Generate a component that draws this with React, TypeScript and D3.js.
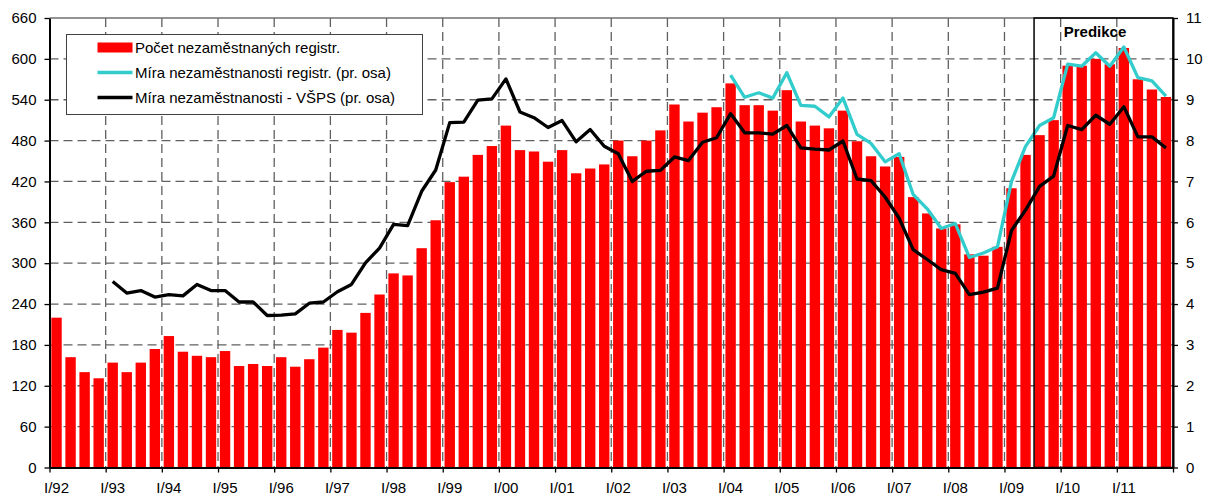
import React, { useEffect, useRef } from 'react';
import * as d3 from 'd3';

const years = ['92', '93', '94', '95', '96', '97', '98', '99', '00', '01', '02', '03', '04', '05', '06', '07', '08', '09', '10', '11'];
const quarterNames = ['I', 'II', 'III', 'IV'];
const categories = years.flatMap((y) => quarterNames.map((q) => `${q}/${y}`));

// počet registrovaných nezaměstnaných (tis.), levá osa
const registeredCount = [
  220, 162, 140, 131, 154, 140, 154, 174, 193, 170, 164, 162, 171, 149, 152, 149,
  162, 148, 159, 176, 202, 198, 227, 254, 285, 282, 322, 363, 419, 427, 459, 472,
  502, 466, 464, 449, 466, 432, 439, 445, 480, 457, 480, 495, 533, 508, 521, 529,
  564, 532, 532, 524, 554, 508, 502, 498, 524, 479, 457, 442, 456, 397, 373, 351,
  357, 313, 311, 324, 410, 459, 488, 510, 590, 590, 600, 592, 616, 570, 555, 544,
];

// míra registrované nezaměstnanosti (%), pravá osa – od I/04
const rateRegistered = [
  ...Array(48).fill(null),
  9.6, 9.06, 9.17, 9.04, 9.66, 8.86, 8.84, 8.58, 9.04, 8.15, 7.93, 7.48, 7.68, 6.68, 6.33, 5.85,
  5.97, 5.14, 5.25, 5.4, 7.0, 7.86, 8.37, 8.56, 9.87, 9.82, 10.15, 9.82, 10.29, 9.54, 9.46, 9.09,
];

// míra nezaměstnanosti VŠPS (%), pravá osa – od I/93
const rateVSPS = [
  null, null, null, null,
  4.55, 4.27, 4.33, 4.17, 4.23, 4.2, 4.48, 4.33, 4.33, 4.05, 4.05, 3.72,
  3.73, 3.76, 4.02, 4.05, 4.3, 4.48, 5.01, 5.37, 5.95, 5.92, 6.76, 7.28,
  8.44, 8.45, 8.99, 9.02, 9.51, 8.7, 8.56, 8.32, 8.49, 7.97, 8.27, 7.86,
  7.68, 7.0, 7.25, 7.27, 7.6, 7.51, 7.96, 8.07, 8.66, 8.19, 8.19, 8.16,
  8.37, 7.82, 7.79, 7.77, 7.99, 7.06, 7.02, 6.62, 6.1, 5.33, 5.09, 4.84,
  4.75, 4.23, 4.29, 4.39, 5.8, 6.3, 6.88, 7.13, 8.37, 8.27, 8.62, 8.4,
  8.83, 8.09, 8.09, 7.82,
];

const leftTicks = d3.range(0, 661, 60);
const rightTicks = d3.range(0, 12, 1);
const predictionStart = 'III/09';

const legendItems = [
  { label: 'Počet nezaměstnaných registr.', type: 'bar', color: '#ff0000' },
  { label: 'Míra nezaměstnanosti registr. (pr. osa)', type: 'line', color: '#33cccc' },
  { label: 'Míra nezaměstnanosti - VŠPS (pr. osa)', type: 'line', color: '#000000' },
];

const font = '"Liberation Sans", Arial, sans-serif';

function App() {
  const svgRef = useRef<SVGSVGElement>(null);

  useEffect(() => {
    const width = 1207;
    const height = 499;
    const margin = { top: 18, right: 34, bottom: 31.5, left: 49.5 };
    const x0 = margin.left;
    const x1 = width - margin.right;
    const y0 = height - margin.bottom;
    const y1 = margin.top;

    const svg = d3.select(svgRef.current).attr('width', width).attr('height', height);
    svg.selectAll('*').remove();

    const x = d3.scaleBand().domain(categories).range([x0, x1]).paddingInner(0.26).paddingOuter(0.13);
    const step = x.step();
    const yearScale = d3.scaleLinear().domain([0, years.length]).range([x0, x1]);
    const yL = d3.scaleLinear().domain([0, 660]).range([y0, y1]);
    const yR = d3.scaleLinear().domain([0, 11]).range([y0, y1]);

    // mřížka
    const grid = svg.append('g');
    grid
      .selectAll('.hgrid')
      .data(leftTicks.filter((t) => t > 0 && t < 660))
      .enter()
      .append('line')
      .attr('x1', x0)
      .attr('x2', x1)
      .attr('y1', (d) => yL(d))
      .attr('y2', (d) => yL(d))
      .attr('stroke', '#606060')
      .attr('stroke-width', 1.3)
      .attr('stroke-dasharray', '9,5');
    grid
      .selectAll('.vgrid')
      .data(d3.range(1, years.length))
      .enter()
      .append('line')
      .attr('x1', (d) => yearScale(d))
      .attr('x2', (d) => yearScale(d))
      .attr('y1', y1)
      .attr('y2', y0)
      .attr('stroke', '#606060')
      .attr('stroke-width', 1.3)
      .attr('stroke-dasharray', '9,5');
    grid
      .append('line')
      .attr('x1', x0)
      .attr('x2', x1)
      .attr('y1', y1)
      .attr('y2', y1)
      .attr('stroke', '#707070')
      .attr('stroke-width', 1.5);

    // sloupce
    svg
      .append('g')
      .selectAll('rect')
      .data(registeredCount)
      .enter()
      .append('rect')
      .attr('x', (_, i) => x(categories[i]) as number)
      .attr('y', (d) => yL(d))
      .attr('width', x.bandwidth())
      .attr('height', (d) => y0 - yL(d))
      .attr('fill', '#ff0000');

    // linie
    const line = d3
      .line<number | null>()
      .defined((d) => d !== null)
      .x((_, i) => (x(categories[i]) as number) + x.bandwidth() / 2)
      .y((d) => yR(d as number));

    svg
      .append('path')
      .datum(rateRegistered)
      .attr('d', line)
      .attr('fill', 'none')
      .attr('stroke', '#33cccc')
      .attr('stroke-width', 3.3)
      .attr('stroke-linejoin', 'round');
    svg
      .append('path')
      .datum(rateVSPS)
      .attr('d', line)
      .attr('fill', 'none')
      .attr('stroke', '#000')
      .attr('stroke-width', 3.3)
      .attr('stroke-linejoin', 'round');

    // predikce
    const px = (x(predictionStart) as number) - (step - x.bandwidth()) / 2 + 1.5;
    svg
      .append('rect')
      .attr('x', px)
      .attr('y', y1)
      .attr('width', x1 - px)
      .attr('height', y0 - y1)
      .attr('fill', 'none')
      .attr('stroke', '#000')
      .attr('stroke-width', 1.5);
    svg
      .append('text')
      .attr('x', 1095)
      .attr('y', 37)
      .attr('text-anchor', 'middle')
      .attr('font-family', font)
      .attr('font-size', 15)
      .attr('font-weight', 'bold')
      .text('Predikce');

    // osy
    const styleAxis = (g) => {
      g.selectAll('.domain').attr('stroke', '#000').attr('stroke-width', 2);
      g.selectAll('.tick line').attr('stroke', '#000').attr('stroke-width', 1.3);
      g.selectAll('text').attr('font-family', font).attr('font-size', 15).attr('fill', '#000');
    };

    svg
      .append('g')
      .attr('transform', `translate(${x0},0)`)
      .call(d3.axisLeft(yL).tickValues(leftTicks).tickSize(5).tickSizeOuter(0).tickPadding(8))
      .call(styleAxis);

    svg
      .append('g')
      .attr('transform', `translate(${x1},0)`)
      .call(d3.axisRight(yR).tickValues(rightTicks).tickSize(5).tickSizeOuter(0).tickPadding(8))
      .call(styleAxis);

    svg
      .append('g')
      .attr('transform', `translate(0,${y0})`)
      .call(d3.axisBottom(yearScale).tickValues(d3.range(0, years.length + 1)).tickFormat(() => '').tickSize(5).tickSizeOuter(0))
      .call(styleAxis);

    svg
      .append('g')
      .attr('transform', `translate(0,${y0})`)
      .call(d3.axisBottom(x).tickValues(categories.filter((c) => c.startsWith('I/'))).tickSize(0).tickPadding(15))
      .call((g) => g.select('.domain').remove())
      .call(styleAxis);

    // legenda
    const legend = svg.append('g').attr('transform', 'translate(66.5,34.5)');
    legend
      .append('rect')
      .attr('width', 356)
      .attr('height', 80)
      .attr('fill', '#fff')
      .attr('stroke', '#404040')
      .attr('stroke-width', 1);
    legendItems.forEach((item, i) => {
      const cy = 13 + i * 25;
      if (item.type === 'bar') {
        legend.append('rect').attr('x', 31).attr('y', cy - 5).attr('width', 35).attr('height', 10).attr('fill', item.color);
      } else {
        legend
          .append('line')
          .attr('x1', 31)
          .attr('x2', 66)
          .attr('y1', cy)
          .attr('y2', cy)
          .attr('stroke', item.color)
          .attr('stroke-width', 3.5);
      }
      legend
        .append('text')
        .attr('x', 68.5)
        .attr('y', cy + 5)
        .attr('font-family', font)
        .attr('font-size', 15)
        .text(item.label);
    });
  }, []);

  return <svg ref={svgRef} style={{ position: 'absolute', left: 0, top: 0 }}></svg>;
}

export default App;
